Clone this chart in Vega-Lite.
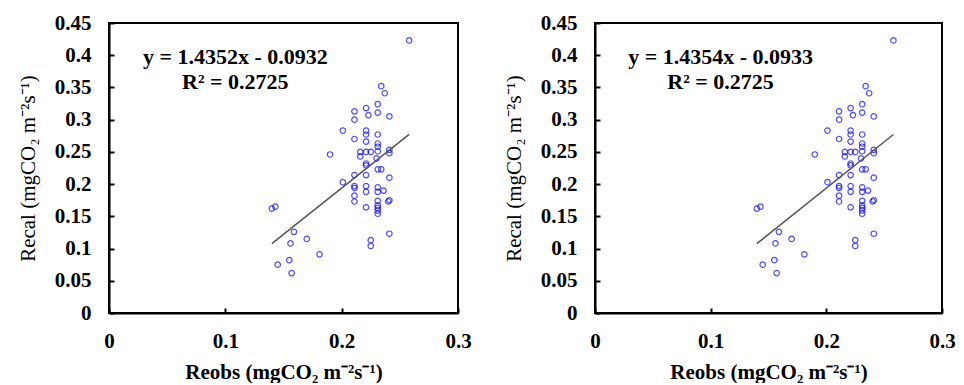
{
  "$schema": "https://vega.github.io/schema/vega-lite/v6.json",
  "background": "white",
  "padding": {"left": 16, "top": 11, "right": 0, "bottom": 0},
  "spacing": 29,
  "datasets": {
    "obs": [
      {"Reobs": 0.258, "Recal": 0.423},
      {"Reobs": 0.234, "Recal": 0.352},
      {"Reobs": 0.237, "Recal": 0.341},
      {"Reobs": 0.211, "Recal": 0.313},
      {"Reobs": 0.211, "Recal": 0.300},
      {"Reobs": 0.221, "Recal": 0.318},
      {"Reobs": 0.223, "Recal": 0.307},
      {"Reobs": 0.231, "Recal": 0.324},
      {"Reobs": 0.231, "Recal": 0.311},
      {"Reobs": 0.241, "Recal": 0.305},
      {"Reobs": 0.201, "Recal": 0.283},
      {"Reobs": 0.211, "Recal": 0.270},
      {"Reobs": 0.221, "Recal": 0.283},
      {"Reobs": 0.221, "Recal": 0.277},
      {"Reobs": 0.221, "Recal": 0.266},
      {"Reobs": 0.231, "Recal": 0.277},
      {"Reobs": 0.231, "Recal": 0.263},
      {"Reobs": 0.231, "Recal": 0.258},
      {"Reobs": 0.231, "Recal": 0.251},
      {"Reobs": 0.216, "Recal": 0.250},
      {"Reobs": 0.221, "Recal": 0.250},
      {"Reobs": 0.225, "Recal": 0.250},
      {"Reobs": 0.241, "Recal": 0.253},
      {"Reobs": 0.241, "Recal": 0.248},
      {"Reobs": 0.190, "Recal": 0.246},
      {"Reobs": 0.216, "Recal": 0.243},
      {"Reobs": 0.230, "Recal": 0.240},
      {"Reobs": 0.221, "Recal": 0.232},
      {"Reobs": 0.221, "Recal": 0.229},
      {"Reobs": 0.231, "Recal": 0.223},
      {"Reobs": 0.234, "Recal": 0.223},
      {"Reobs": 0.211, "Recal": 0.214},
      {"Reobs": 0.221, "Recal": 0.214},
      {"Reobs": 0.241, "Recal": 0.210},
      {"Reobs": 0.201, "Recal": 0.203},
      {"Reobs": 0.211, "Recal": 0.197},
      {"Reobs": 0.211, "Recal": 0.194},
      {"Reobs": 0.221, "Recal": 0.197},
      {"Reobs": 0.231, "Recal": 0.195},
      {"Reobs": 0.221, "Recal": 0.188},
      {"Reobs": 0.231, "Recal": 0.188},
      {"Reobs": 0.236, "Recal": 0.190},
      {"Reobs": 0.211, "Recal": 0.182},
      {"Reobs": 0.211, "Recal": 0.173},
      {"Reobs": 0.231, "Recal": 0.174},
      {"Reobs": 0.241, "Recal": 0.175},
      {"Reobs": 0.240, "Recal": 0.173},
      {"Reobs": 0.221, "Recal": 0.164},
      {"Reobs": 0.231, "Recal": 0.167},
      {"Reobs": 0.231, "Recal": 0.163},
      {"Reobs": 0.231, "Recal": 0.159},
      {"Reobs": 0.231, "Recal": 0.154},
      {"Reobs": 0.140, "Recal": 0.162},
      {"Reobs": 0.143, "Recal": 0.165},
      {"Reobs": 0.159, "Recal": 0.126},
      {"Reobs": 0.156, "Recal": 0.108},
      {"Reobs": 0.170, "Recal": 0.115},
      {"Reobs": 0.225, "Recal": 0.113},
      {"Reobs": 0.225, "Recal": 0.104},
      {"Reobs": 0.241, "Recal": 0.123},
      {"Reobs": 0.181, "Recal": 0.091},
      {"Reobs": 0.145, "Recal": 0.075},
      {"Reobs": 0.155, "Recal": 0.082},
      {"Reobs": 0.157, "Recal": 0.062}
    ],
    "fitA": [
      {"Reobs": 0.140, "Recal": 0.1077},
      {"Reobs": 0.258, "Recal": 0.2771}
    ],
    "fitB": [
      {"Reobs": 0.140, "Recal": 0.1077},
      {"Reobs": 0.258, "Recal": 0.2770}
    ]
  },
  "config": {
    "view": {"stroke": "black", "strokeWidth": 2},
    "axis": {"labelOverlap": false, "labelFlush": false, "grid": false}
  },
  "hconcat": [
    {
      "width": 349,
      "height": 290,
      "layer": [
        {
          "data": {"name": "obs"},
          "mark": {"type": "point", "shape": "circle", "filled": false, "color": "#0000ff", "size": 30, "strokeWidth": 1.2},
          "encoding": {
            "x": {"field": "Reobs", "type": "quantitative", "scale": {"domain": [0, 0.3], "nice": false},
              "axis": {"title": "Reobs (mgCO₂ m⁻²s⁻¹)", "values": [0, 0.1, 0.2, 0.3], "format": "~g", "grid": false,
                "domainColor": "black", "domainWidth": 2, "tickColor": "black", "tickWidth": 2, "tickSize": -5,
                "labelFont": "Liberation Serif", "labelFontWeight": "bold", "labelFontSize": 21, "labelColor": "black",
                "labelFlush": false, "labelOverlap": false, "labelPadding": 22,
                "titleFont": "Liberation Serif", "titleFontWeight": "bold", "titleFontSize": 21, "titleColor": "black", "titlePadding": 10}},
            "y": {"field": "Recal", "type": "quantitative", "scale": {"domain": [0, 0.45], "nice": false},
              "axis": {"title": "Recal (mgCO₂ m⁻²s⁻¹)", "values": [0, 0.05, 0.1, 0.15, 0.2, 0.25, 0.3, 0.35, 0.4, 0.45], "format": "~g", "tickCount": 10, "grid": false,
                "domainColor": "black", "domainWidth": 2, "tickColor": "black", "tickWidth": 2, "tickSize": -5,
                "labelFont": "Liberation Serif", "labelFontWeight": "bold", "labelFontSize": 21, "labelColor": "black",
                "labelFlush": false, "labelOverlap": false, "labelPadding": 23,
                "titleFont": "Liberation Serif", "titleFontWeight": "normal", "titleFontSize": 21, "titleColor": "black", "titlePadding": 16}}
          }
        },
        {
          "data": {"name": "fitA"},
          "mark": {"type": "line", "color": "#555555", "strokeWidth": 1.5},
          "encoding": {
            "x": {"field": "Reobs", "type": "quantitative"},
            "y": {"field": "Recal", "type": "quantitative"}
          }
        },
        {
          "data": {"values": [{"label": "y = 1.4352x - 0.0932"}]},
          "mark": {"type": "text", "font": "Liberation Serif", "fontWeight": "bold", "fontSize": 22, "color": "black"},
          "encoding": {
            "x": {"datum": 0.1086, "type": "quantitative"},
            "y": {"datum": 0.397, "type": "quantitative"},
            "text": {"field": "label"}
          }
        },
        {
          "data": {"values": [{"label": "R² = 0.2725"}]},
          "mark": {"type": "text", "font": "Liberation Serif", "fontWeight": "bold", "fontSize": 22, "color": "black"},
          "encoding": {
            "x": {"datum": 0.1086, "type": "quantitative"},
            "y": {"datum": 0.358, "type": "quantitative"},
            "text": {"field": "label"}
          }
        }
      ]
    },
    {
      "width": 347,
      "height": 290,
      "layer": [
        {
          "data": {"name": "obs"},
          "mark": {"type": "point", "shape": "circle", "filled": false, "color": "#0000ff", "size": 30, "strokeWidth": 1.2},
          "encoding": {
            "x": {"field": "Reobs", "type": "quantitative", "scale": {"domain": [0, 0.3], "nice": false},
              "axis": {"title": "Reobs (mgCO₂ m⁻²s⁻¹)", "values": [0, 0.1, 0.2, 0.3], "format": "~g", "grid": false,
                "domainColor": "black", "domainWidth": 2, "tickColor": "black", "tickWidth": 2, "tickSize": -5,
                "labelFont": "Liberation Serif", "labelFontWeight": "bold", "labelFontSize": 21, "labelColor": "black",
                "labelFlush": false, "labelOverlap": false, "labelPadding": 22,
                "titleFont": "Liberation Serif", "titleFontWeight": "bold", "titleFontSize": 21, "titleColor": "black", "titlePadding": 10}},
            "y": {"field": "Recal", "type": "quantitative", "scale": {"domain": [0, 0.45], "nice": false},
              "axis": {"title": "Recal (mgCO₂ m⁻²s⁻¹)", "values": [0, 0.05, 0.1, 0.15, 0.2, 0.25, 0.3, 0.35, 0.4, 0.45], "format": "~g", "tickCount": 10, "grid": false,
                "domainColor": "black", "domainWidth": 2, "tickColor": "black", "tickWidth": 2, "tickSize": -5,
                "labelFont": "Liberation Serif", "labelFontWeight": "bold", "labelFontSize": 21, "labelColor": "black",
                "labelFlush": false, "labelOverlap": false, "labelPadding": 23,
                "titleFont": "Liberation Serif", "titleFontWeight": "normal", "titleFontSize": 21, "titleColor": "black", "titlePadding": 16}}
          }
        },
        {
          "data": {"name": "fitB"},
          "mark": {"type": "line", "color": "#555555", "strokeWidth": 1.5},
          "encoding": {
            "x": {"field": "Reobs", "type": "quantitative"},
            "y": {"field": "Recal", "type": "quantitative"}
          }
        },
        {
          "data": {"values": [{"label": "y = 1.4354x - 0.0933"}]},
          "mark": {"type": "text", "font": "Liberation Serif", "fontWeight": "bold", "fontSize": 22, "color": "black"},
          "encoding": {
            "x": {"datum": 0.1086, "type": "quantitative"},
            "y": {"datum": 0.397, "type": "quantitative"},
            "text": {"field": "label"}
          }
        },
        {
          "data": {"values": [{"label": "R² = 0.2725"}]},
          "mark": {"type": "text", "font": "Liberation Serif", "fontWeight": "bold", "fontSize": 22, "color": "black"},
          "encoding": {
            "x": {"datum": 0.1086, "type": "quantitative"},
            "y": {"datum": 0.358, "type": "quantitative"},
            "text": {"field": "label"}
          }
        }
      ]
    }
  ]
}
